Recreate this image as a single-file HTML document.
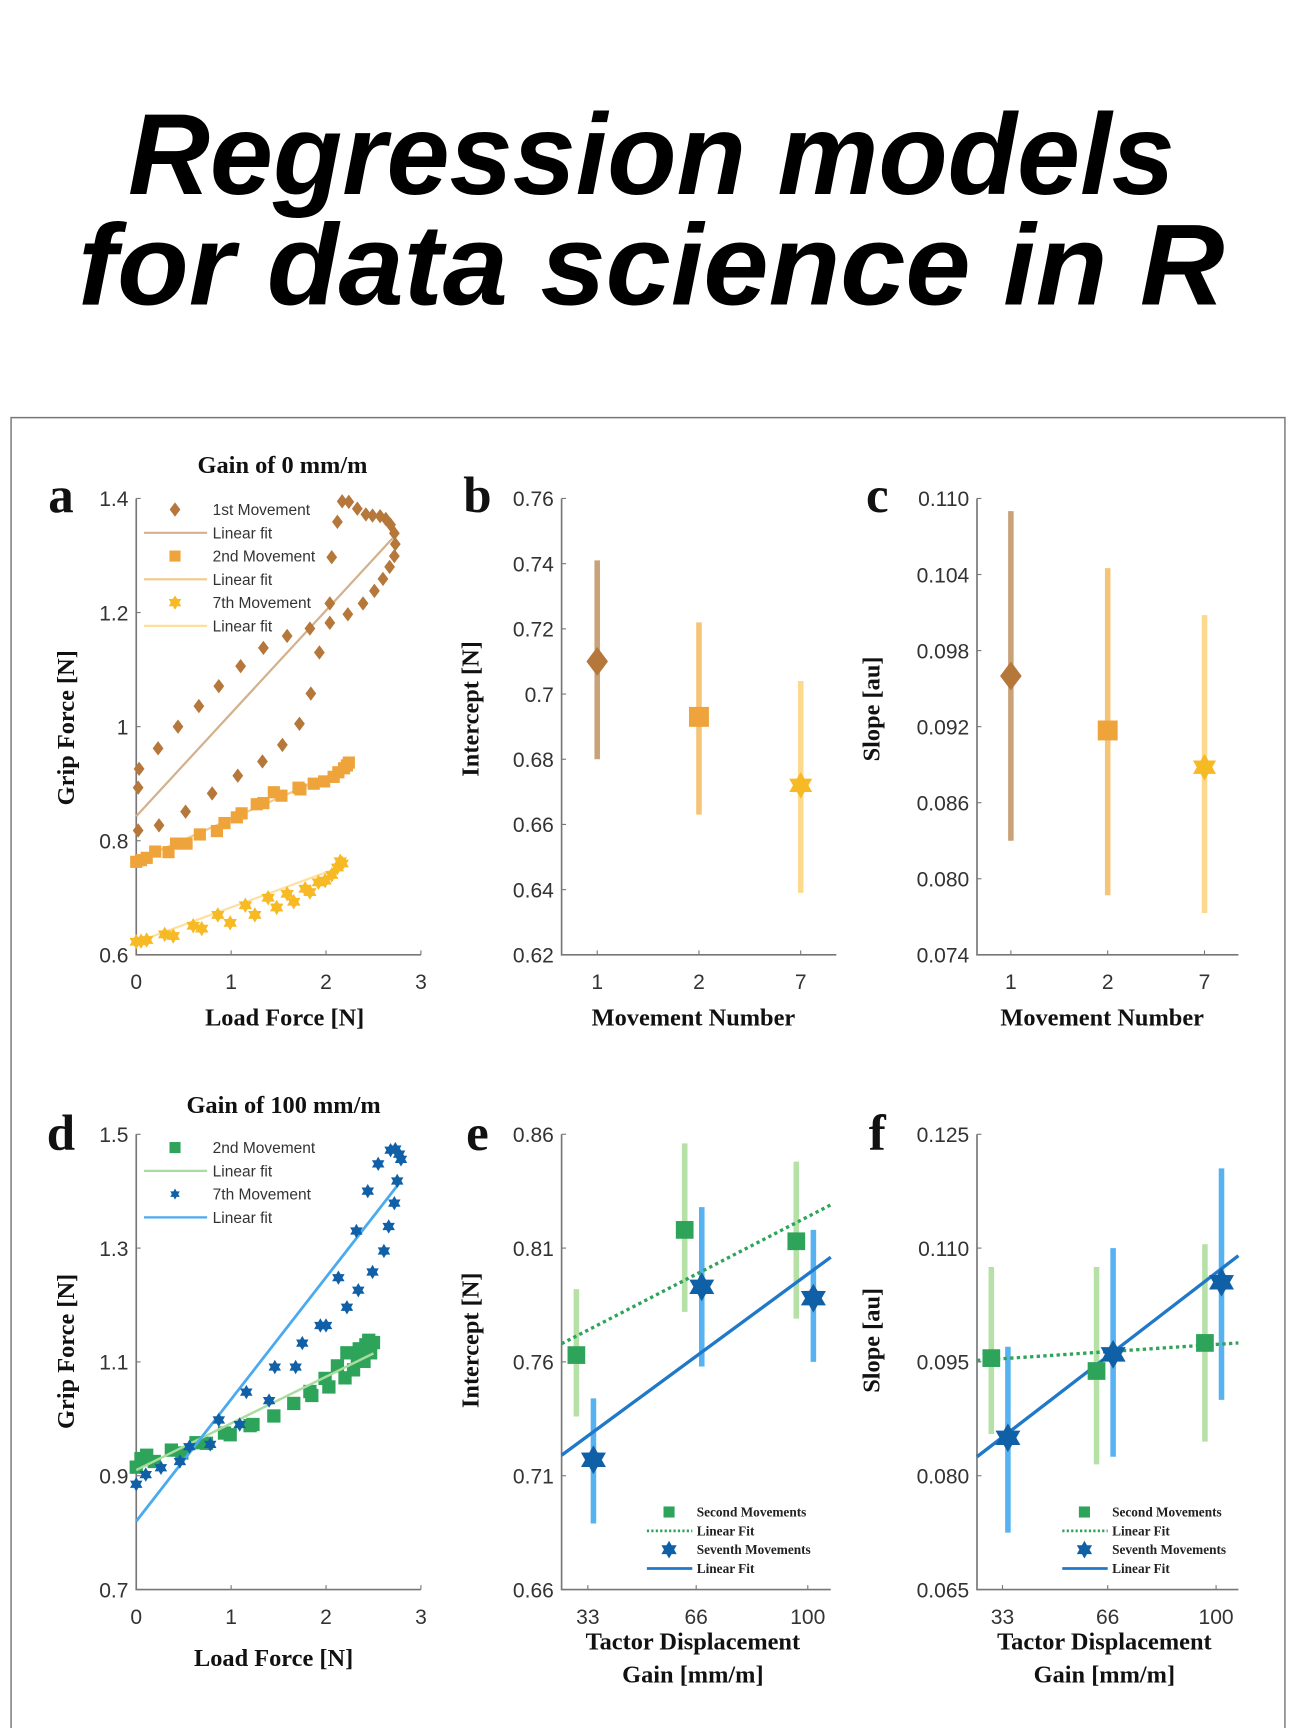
<!DOCTYPE html>
<html><head><meta charset="utf-8"><style>
html,body{margin:0;padding:0;background:#fff;}
svg{display:block;}
.tk{font-family:"Liberation Sans",sans-serif;font-size:19px;fill:#333;}
.ttl{font-family:"Liberation Serif",serif;font-weight:bold;font-size:22px;fill:#111;}
.lg{font-family:"Liberation Sans",sans-serif;font-size:14px;fill:#333;}
.lg2{font-family:"Liberation Serif",serif;font-weight:bold;font-size:12px;fill:#222;}
.let{font-family:"Liberation Serif",serif;font-weight:bold;font-size:46px;fill:#111;}
</style></head><body>
<svg id="fig" width="1296" height="1728" viewBox="0 0 1170 1560" xmlns="http://www.w3.org/2000/svg">
<text x="588" y="175" text-anchor="middle" textLength="945" lengthAdjust="spacingAndGlyphs" style="font-family:'Liberation Sans',sans-serif;font-weight:bold;font-style:italic;font-size:104px;fill:#000">Regression models</text>
<text x="588" y="275" text-anchor="middle" textLength="1035" lengthAdjust="spacingAndGlyphs" style="font-family:'Liberation Sans',sans-serif;font-weight:bold;font-style:italic;font-size:104px;fill:#000">for data science in R</text>
<path d="M10 1562 V377 H1160 V1562" fill="none" stroke="#777" stroke-width="1.3"/>
<g id="plots"></g>
</svg>
<script>
// ---- Panel a data ----
const aMove1X=[0.02,0.02,0.03,0.24,0.23,0.52,0.44,0.80,0.66,1.07,0.87,1.33,1.10,1.54,1.34,1.72,1.59,1.84,1.83,1.93,2.04,2.23,2.04,2.39,2.51,2.60,2.67,2.72,2.73,2.72,2.68,2.63,2.57,2.49,2.42,2.33,2.24,2.17,2.12,2.06];
const aMove1Y=[0.818,0.893,0.926,0.827,0.962,0.851,1.0,0.883,1.036,0.914,1.071,0.939,1.106,0.968,1.138,1.005,1.159,1.058,1.172,1.130,1.182,1.197,1.216,1.216,1.238,1.259,1.280,1.299,1.320,1.339,1.354,1.364,1.369,1.370,1.372,1.382,1.394,1.395,1.359,1.297];
const aMove2X=[0,0.05,0.11,0.20,0.34,0.42,0.53,0.67,0.85,0.93,1.06,1.11,1.27,1.34,1.45,1.53,1.71,1.73,1.87,1.98,2.08,2.13,2.19,2.22,2.24];
const aMove2Y=[0.763,0.766,0.770,0.781,0.780,0.795,0.795,0.811,0.817,0.831,0.841,0.848,0.864,0.866,0.885,0.879,0.893,0.890,0.900,0.904,0.912,0.920,0.927,0.932,0.937];
const aMove7X=[0,0.05,0.11,0.30,0.39,0.60,0.69,0.86,0.99,1.15,1.25,1.39,1.48,1.59,1.66,1.78,1.83,1.92,1.99,2.06,2.12,2.15,2.17];
const aMove7Y=[0.623,0.624,0.626,0.636,0.633,0.651,0.646,0.670,0.656,0.687,0.670,0.700,0.683,0.707,0.693,0.716,0.710,0.727,0.730,0.740,0.753,0.764,0.760];
const aFit1=[0,0.843,2.7,1.33];
const aFit2=[0,0.765,2.25,0.93];
const aFit7=[0,0.622,2.17,0.755];
// ---- Panel d data ----
const dMove2X=[0,0.05,0.11,0.19,0.37,0.48,0.63,0.74,0.93,0.99,1.20,1.23,1.45,1.66,1.83,1.85,1.99,2.03,2.12,2.20,2.22,2.29,2.35,2.40,2.45,2.47,2.50,2.42,2.33];
const dMove2Y=[0.915,0.930,0.936,0.925,0.945,0.940,0.958,0.957,0.975,0.972,0.988,0.990,1.005,1.027,1.048,1.041,1.071,1.056,1.093,1.072,1.116,1.086,1.123,1.101,1.138,1.116,1.134,1.130,1.108];
const dMove7X=[0,0.10,0.26,0.46,0.56,0.78,0.87,1.09,1.16,1.40,1.46,1.68,1.75,1.94,2.0,2.22,2.13,2.34,2.32,2.49,2.61,2.66,2.72,2.75,2.68,2.77,2.79,2.73,2.44,2.55];
const dMove7Y=[0.885,0.902,0.914,0.925,0.951,0.955,0.998,0.990,1.047,1.032,1.091,1.091,1.133,1.164,1.164,1.196,1.248,1.226,1.330,1.258,1.295,1.338,1.379,1.418,1.472,1.465,1.456,1.474,1.400,1.448];
const dFit2=[0,0.91,2.5,1.115];
const dFit7=[0,0.82,2.79,1.418];
// ---- Panel b / c data ----
const movements=["1","2","7"];
const bIntercept=[0.710,0.693,0.672];
const bLow=[0.680,0.663,0.639];
const bHigh=[0.741,0.722,0.704];
const cSlope=[0.096,0.0917,0.0888];
const cLow=[0.083,0.0787,0.0773];
const cHigh=[0.109,0.1045,0.1008];
// ---- Panel e / f data ----
const gains=[33,66,100];
const eSecond=[0.763,0.818,0.813];
const eSecondLow=[0.736,0.782,0.779];
const eSecondHigh=[0.792,0.856,0.848];
const eSeventh=[0.717,0.793,0.788];
const eSeventhLow=[0.689,0.758,0.760];
const eSeventhHigh=[0.744,0.828,0.818];
const eFitSecond=[25,0.768,107,0.829];
const eFitSeventh=[25,0.719,107,0.806];
const fSecond=[0.0955,0.0938,0.0975];
const fSecondLow=[0.0855,0.0815,0.0845];
const fSecondHigh=[0.1075,0.1075,0.1105];
const fSeventh=[0.0850,0.0960,0.1055];
const fSeventhLow=[0.0725,0.0825,0.0900];
const fSeventhHigh=[0.0970,0.1100,0.1205];
const fFitSecond=[25,0.0952,107,0.0975];
const fFitSeventh=[25,0.0825,107,0.1090];
const aYTicks=["0.6","0.8","1","1.2","1.4"];
const dYTicks=["0.7","0.9","1.1","1.3","1.5"];
const forceXTicks=["0","1","2","3"];
const bYTicks=["0.62","0.64","0.66","0.68","0.7","0.72","0.74","0.76"];
const cYTicks=["0.074","0.080","0.086","0.092","0.098","0.104","0.110"];
const eYTicks=["0.66","0.71","0.76","0.81","0.86"];
const fYTicks=["0.065","0.080","0.095","0.110","0.125"];

const NS="http://www.w3.org/2000/svg";
const root=document.getElementById('plots');
function mk(tag,attrs,parent){const e=document.createElementNS(NS,tag);for(const k in attrs)e.setAttribute(k,attrs[k]);(parent||root).appendChild(e);return e;}
function lin(d0,d1,r0,r1){return v=>r0+(v-d0)*(r1-r0)/(d1-d0);}
function starPts(cx,cy,r){let p=[];for(let i=0;i<12;i++){const a=-Math.PI/2+i*Math.PI/6;const rr=i%2?r*0.58:r;p.push((cx+rr*Math.cos(a)).toFixed(1)+","+(cy+rr*Math.sin(a)).toFixed(1));}return p.join(" ");}
function marker(kind,cx,cy,r,fill,name){let e;
 if(kind==='d'){e=mk('polygon',{points:`${cx},${cy-r} ${cx+r*0.75},${cy} ${cx},${cy+r} ${cx-r*0.75},${cy}`,fill:fill});}
 else if(kind==='s'){e=mk('rect',{x:cx-r,y:cy-r,width:2*r,height:2*r,fill:fill});}
 else {e=mk('polygon',{points:starPts(cx,cy,r),fill:fill});}
 
 
 return e;}
function axes(x0,x1,y0,y1,yTicks,yVals,ys,xTicks,xVals,xs,xLabY,prefix){
 const ax=mk('path',{d:`M${x0} ${y1} V${y0} H${x1}`,fill:'none',stroke:'#777','stroke-width':1.5});
 
 
 yVals.forEach((v,i)=>{const y=ys(v);mk('line',{x1:x0,x2:x0+4,y1:y,y2:y,stroke:'#777'});
  const t=mk('text',{x:x0-7,y:y+7,'text-anchor':'end',class:'tk'});t.textContent=yTicks[i];
  
  });
 xVals.forEach((v,i)=>{const x=xs(v);mk('line',{x1:x,x2:x,y1:y0,y2:y0-4,stroke:'#777'});
  const t=mk('text',{x:x,y:xLabY,'text-anchor':'middle',class:'tk'});t.textContent=xTicks[i];
  
  });
}
function text(x,y,s,cls,name,rot){const t=mk('text',{x:x,y:y,'text-anchor':'middle',class:cls});if(rot)t.setAttribute('transform',`rotate(-90 ${x} ${y})`);t.textContent=s;
 
 return t;}
function fitLine(f,xs,ys,color,w,dash,name){const l=mk('line',{x1:xs(f[0]),y1:ys(f[1]),x2:xs(f[2]),y2:ys(f[3]),stroke:color,'stroke-width':w});if(dash)l.setAttribute('stroke-dasharray',dash);
 
 }

// Panel a
{const xs=lin(0,3,123,380),ys=lin(0.6,1.4,862,450);
 axes(123,380,862,450,aYTicks,[0.6,0.8,1,1.2,1.4],ys,forceXTicks,[0,1,2,3],xs,893,'panel-a');
 fitLine(aFit1,xs,ys,'#d2b18c',2,null,'a-fit-1st');
 fitLine(aFit2,xs,ys,'#f2c98a',2,null,'a-fit-2nd');
 fitLine(aFit7,xs,ys,'#fde0a0',2,null,'a-fit-7th');
 aMove1X.forEach((v,i)=>marker('d',xs(v),ys(aMove1Y[i]),6.5,'#b5773a','a-1st-point'));
 aMove2X.forEach((v,i)=>marker('s',xs(v),ys(aMove2Y[i]),5.5,'#eea43a','a-2nd-point'));
 aMove7X.forEach((v,i)=>marker('*',xs(v),ys(aMove7Y[i]),7,'#f7b924','a-7th-point'));
 text(255,427,'Gain of 0 mm/m','ttl','a-title');
 text(257,926,'Load Force [N]','ttl','a-x-title');
 text(67,657,'Grip Force [N]','ttl','a-y-title',true);
 text(55,462,'a','let','panel-a-letter');
 const L=[['d','#b5773a','1st Movement'],['l','#d2b18c','Linear fit'],['s','#eea43a','2nd Movement'],['l','#f2c98a','Linear fit'],['*','#f7b924','7th Movement'],['l','#fde0a0','Linear fit']];
 L.forEach((r,i)=>{const y=460+i*21;if(r[0]==='l'){fitLine([130,y,187,y],v=>v,v=>v,r[1],2,null,'a-legend-line');}else marker(r[0],158,y,r[0]==='s'?5:6.5,r[1],'a-legend-marker');
  const t=mk('text',{x:192,y:y+5,class:'lg'});t.textContent=r[2];
  
  });}
// Panel d
{const xs=lin(0,3,123,380),ys=lin(0.7,1.5,1435,1024);
 axes(123,380,1435,1024,dYTicks,[0.7,0.9,1.1,1.3,1.5],ys,forceXTicks,[0,1,2,3],xs,1466,'panel-d');
 dMove2X.forEach((v,i)=>marker('s',xs(v),ys(dMove2Y[i]),6,'#2ea45a','d-2nd-point'));
 fitLine(dFit2,xs,ys,'#a9dc9f',2.2,null,'d-fit-2nd');
 fitLine(dFit7,xs,ys,'#4aaaf0',2.5,null,'d-fit-7th');
 dMove7X.forEach((v,i)=>marker('*',xs(v),ys(dMove7Y[i]),6.5,'#1060a8','d-7th-point'));
 text(256,1005,'Gain of 100 mm/m','ttl','d-title');
 text(247,1504,'Load Force [N]','ttl','d-x-title');
 text(67,1220,'Grip Force [N]','ttl','d-y-title',true);
 text(55,1038,'d','let','panel-d-letter');
 const L=[['s','#2ea45a','2nd Movement'],['l','#a9dc9f','Linear fit'],['*','#1060a8','7th Movement'],['l','#4aaaf0','Linear fit']];
 L.forEach((r,i)=>{const y=1036+i*21;if(r[0]==='l'){fitLine([130,y,187,y],v=>v,v=>v,r[1],2,null,'d-legend-line');}else marker(r[0],158,y,5,r[1],'d-legend-marker');
  const t=mk('text',{x:192,y:y+5,class:'lg'});t.textContent=r[2];
  
  });}
// Panels b, c
function catPanel(x0,x1,dom,yt,yv,vals,lo,hi,prefix,letterX,ytitle,ytX){
 const xs=lin(-0.35,2.35,x0,x1),ys=lin(dom[0],dom[1],862,450);
 axes(x0,x1,862,450,yt,yv,ys,movements,[0,1,2],xs,893,prefix);
 const bar=['#c9a27a','#f5c476','#fcd98c'],mc=['#b5773a','#eea43a','#f7b924'],kinds=['d','s','*'];
 vals.forEach((v,i)=>{const x=xs(i);const l=mk('line',{x1:x,x2:x,y1:ys(lo[i]),y2:ys(hi[i]),stroke:bar[i],'stroke-width':5});
  
  
  marker(kinds[i],x,ys(v),kinds[i]==='s'?9:(kinds[i]==='d'?13:12),mc[i],prefix+'-estimate');});
 text((x0+x1)/2-5,926,'Movement Number','ttl',prefix+'-x-title');
 text(ytX,640,ytitle,'ttl',prefix+'-y-title',true);
 text(letterX,462,prefix==='panel-b'?'b':'c','let',prefix+'-letter');}
catPanel(507,755,[0.62,0.76],bYTicks,[0.62,0.64,0.66,0.68,0.70,0.72,0.74,0.76],bIntercept,bLow,bHigh,'panel-b',431,'Intercept [N]',432);
catPanel(882,1118,[0.074,0.110],cYTicks,[0.074,0.080,0.086,0.092,0.098,0.104,0.110],cSlope,cLow,cHigh,'panel-c',792,'Slope [au]',794);
// Panels e, f
function gainPanel(x0,x1,dom,yt,yv,s2,s2l,s2h,s7,s7l,s7h,fit2,fit7,prefix,letterX,ytitle,ytX){
 const xs=lin(25,107,x0,x1),ys=lin(dom[0],dom[1],1435,1024);
 axes(x0,x1,1435,1024,yt,yv,ys,gains.map(String),gains,xs,1466,prefix);
 const off=(x1-x0)/82;
 gains.forEach((g,i)=>{let x=xs(g)-3.5*off;let l=mk('line',{x1:x,x2:x,y1:ys(s2l[i]),y2:ys(s2h[i]),stroke:'#b5e0a6','stroke-width':5});
  
  
  x=xs(g)+1.7*off;l=mk('line',{x1:x,x2:x,y1:ys(s7l[i]),y2:ys(s7h[i]),stroke:'#56b2f0','stroke-width':5});
  
  });
 fitLine(fit2,xs,ys,'#2ea45a',3,'3 3',prefix+'-second-fit');
 fitLine(fit7,xs,ys,'#1f78c8',3,null,prefix+'-seventh-fit');
 gains.forEach((g,i)=>{marker('s',xs(g)-3.5*off,ys(s2[i]),8,'#2ea45a',prefix+'-second-point');
  marker('*',xs(g)+1.7*off,ys(s7[i]),13,'#1060a8',prefix+'-seventh-point');});
 const cx=(x0+x1)/2-3;
 text(cx,1489,'Tactor Displacement','ttl',prefix+'-x-title');
 text(cx,1519,'Gain [mm/m]','ttl',prefix+'-x-title-2');
 text(ytX,1210,ytitle,'ttl',prefix+'-y-title',true);
 text(letterX,1038,prefix==='panel-e'?'e':'f','let',prefix+'-letter');
 const lx=x0+76;
 const L=[['s','#2ea45a','Second Movements'],['ld','#2ea45a','Linear Fit'],['*','#1060a8','Seventh Movements'],['l','#1f78c8','Linear Fit']];
 L.forEach((r,i)=>{const y=1365+i*17;if(r[0]==='l'||r[0]==='ld'){fitLine([lx+1,y,lx+42,y],v=>v,v=>v,r[1],2.5,r[0]==='ld'?'2 2':null,prefix+'-legend-line');}else marker(r[0],lx+21,y,r[0]==='s'?5:8,r[1],prefix+'-legend-marker');
  const t=mk('text',{x:lx+46,y:y+4,class:'lg2'});t.textContent=r[2];
  
  });}
gainPanel(507,750,[0.66,0.86],eYTicks,[0.66,0.71,0.76,0.81,0.86],eSecond,eSecondLow,eSecondHigh,eSeventh,eSeventhLow,eSeventhHigh,eFitSecond,eFitSeventh,'panel-e',431,'Intercept [N]',432);
gainPanel(882,1118,[0.065,0.125],fYTicks,[0.065,0.080,0.095,0.110,0.125],fSecond,fSecondLow,fSecondHigh,fSeventh,fSeventhLow,fSeventhHigh,fFitSecond,fFitSeventh,'panel-f',792,'Slope [au]',794);
</script>
</body></html>
